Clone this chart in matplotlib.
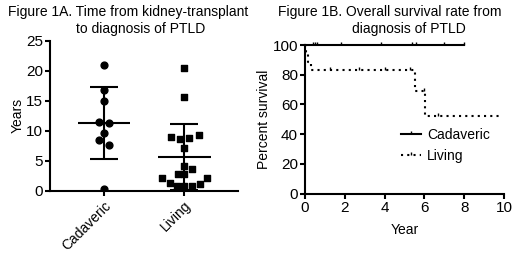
import numpy as np
import matplotlib
matplotlib.use('Agg')
import matplotlib.pyplot as plt
from matplotlib.lines import Line2D

plt.rcParams['font.family'] = ['Liberation Sans', 'DejaVu Sans']

# Figure 1A data (years from transplant to PTLD)
groups = ['Cadaveric', 'Living']
cadaveric = [21.0, 16.7, 14.9, 11.5, 11.3, 9.6, 8.5, 7.7, 0.3]
cad_jitter = [0, 0, 0, -0.06, 0.06, 0, -0.06, 0.06, 0]
living = [20.5, 15.6, 9.0, 8.7, 8.8, 9.3, 7.1, 4.2, 3.6, 2.8, 2.8,
          2.1, 2.1, 1.3, 1.2, 0.8, 0.8, 0.8]
liv_jitter = [0, 0, -0.16, -0.05, 0.06, 0.19, 0, 0, 0.1, -0.07, 0,
              -0.28, 0.28, -0.17, 0.2, -0.09, 0, 0.1]

# Figure 1B data (Kaplan-Meier steps)
cad_t = [0, 8.0]
cad_s = [100, 100]
cad_censor = [0.4, 0.5, 0.6, 1.8, 3.8, 5.4, 5.6, 7.0, 8.0]
liv_t = [0, 0.05, 0.15, 0.3, 5.55, 6.05, 9.8]
liv_s = [100, 94.4, 88.9, 83.3, 69.4, 52.1, 52.1]
liv_censor = [1.25, 2.7, 4.0, 5.3, 5.97, 6.7]

fig = plt.figure(figsize=(5.2, 2.54), dpi=100)

# ---- left panel
ax1 = fig.add_axes([0.096, 0.249, 0.362, 0.591])
ax1.scatter(np.array(cad_jitter) + 0, cadaveric, marker='o', s=24, color='black', zorder=3)
ax1.scatter(np.array(liv_jitter) + 1, living, marker='s', s=24, color='black', zorder=3)
for i, vals in enumerate([cadaveric, living]):
    m = np.mean(vals)
    sd = np.std(vals, ddof=1)
    lo = max(m - sd, 0)
    ax1.hlines(m, i - 0.33, i + 0.33, color='black', lw=1.5)
    ax1.vlines(i, lo, m + sd, color='black', lw=1.5)
    ax1.hlines([lo, m + sd], i - 0.17, i + 0.17, color='black', lw=1.5)
ax1.set_xlim(-0.675, 1.675)
ax1.set_ylim(0, 25)
ax1.set_yticks([0, 5, 10, 15, 20, 25])
ax1.set_xticks([0, 1])
ax1.set_xticklabels(groups, rotation=45, ha='right', rotation_mode='anchor')
ax1.set_ylabel('Years', fontsize=10, labelpad=1)

# ---- right panel
ax2 = fig.add_axes([0.5865, 0.2374, 0.3827, 0.5854])
ax2.step(cad_t, cad_s, where='post', color='black', lw=1.5, clip_on=False)
ax2.step(liv_t, liv_s, where='post', color='black', lw=1.5, ls=(0, (1, 2)), clip_on=False)
idx = np.searchsorted(liv_t, liv_censor, side='right') - 1
ax2.plot(cad_censor, [100] * len(cad_censor), ls='none', marker=2, ms=2.5,
         mew=1.0, color='black', clip_on=False)
ax2.plot(liv_censor, np.array(liv_s)[idx], ls='none', marker=2, ms=2.5,
         mew=1.0, color='black', clip_on=False)
ax2.set_xlim(0, 10)
ax2.set_ylim(0, 100)
ax2.set_xticks([0, 2, 4, 6, 8, 10])
ax2.set_yticks([0, 20, 40, 60, 80, 100])
ax2.set_xlabel('Year', fontsize=10, labelpad=6)
ax2.set_ylabel('Percent survival', fontsize=10, labelpad=1)
handles = [Line2D([], [], color='black', lw=1.5, marker=2, ms=2.5, mew=1.0),
           Line2D([], [], color='black', lw=1.5, ls=(0, (1, 2)), marker=2, ms=2.5, mew=1.0)]
ax2.legend(handles, groups, frameon=False, fontsize=10, handlelength=1.45,
           handletextpad=0.45, labelspacing=0.45, numpoints=1,
           loc='upper left', bbox_to_anchor=(0.48, 0.44), borderaxespad=0,
           borderpad=0)

for ax in (ax1, ax2):
    ax.spines['top'].set_visible(False)
    ax.spines['right'].set_visible(False)
    ax.spines['left'].set_linewidth(1.5)
    ax.spines['bottom'].set_linewidth(1.5)
    ax.tick_params(width=1.5, length=3.5, labelsize=11, pad=1.5)
ax1.tick_params(axis='x', labelsize=10, pad=2)

fig.text(0.247, 0.953, 'Figure 1A. Time from kidney-transplant', ha='center', va='center', fontsize=10)
fig.text(0.270, 0.886, 'to diagnosis of PTLD', ha='center', va='center', fontsize=10)
fig.text(0.750, 0.953, 'Figure 1B. Overall survival rate from', ha='center', va='center', fontsize=10)
fig.text(0.786, 0.886, 'diagnosis of PTLD', ha='center', va='center', fontsize=10)

fig.savefig('out.png', dpi=100)
